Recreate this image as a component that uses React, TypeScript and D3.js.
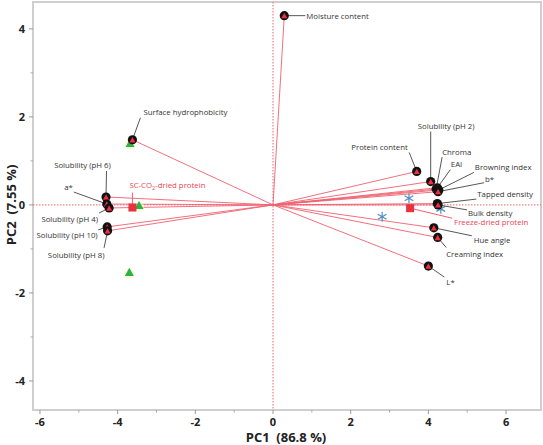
import React from "react";
import * as d3 from "d3";

// ---- data ----
const loadingNames = [
  "Moisture content", "Surface hydrophobicity", "Solubility (pH 6)", "a*", "Solubility (pH 4)",
  "Solubility (pH 10)", "Solubility (pH 8)", "Protein content", "Solubility (pH 2)", "Chroma",
  "EAI", "Browning index", "b*", "Tapped density", "Bulk density", "Hue angle", "Creaming index", "L*",
];
const loadingPC1 = [0.29, -3.62, -4.30, -4.28, -4.22, -4.27, -4.26, 3.70, 4.06, 4.20, 4.23, 4.27, 4.25, 4.23, 4.25, 4.14, 4.24, 4.0];
const loadingPC2 = [4.30, 1.48, 0.18, 0.02, -0.07, -0.50, -0.59, 0.76, 0.53, 0.36, 0.39, 0.34, 0.30, 0.03, 0.0, -0.52, -0.74, -1.39];

const scCO2PC1 = [-3.68, -3.45, -3.70];
const scCO2PC2 = [1.39, -0.02, -1.54];
const freezePC1 = [3.50, 2.81, 4.32];
const freezePC2 = [0.15, -0.27, -0.09];
const groupNames = ["SC-CO2-dried protein", "Freeze-dried protein"];
const groupMeanPC1 = [-3.62, 3.53];
const groupMeanPC2 = [-0.06, -0.075];

const xTicks = [-6, -4, -2, 0, 2, 4, 6];
const yTicks = [-4, -2, 0, 2, 4];
const xMinor = [-5, -3, -1, 1, 3, 5];
const yMinor = [-3, -1, 1, 3];

// ---- layout (label offsets in px relative to the point) ----
// [textDx, textDy, anchor, leaderDx, leaderDy]
const labelLayout: [number, number, string, number, number][] = [
  [22, 3, "start", 21, 0],
  [11, -25, "start", 8, -22],
  [-23.5, -28.5, "middle", 0.5, -26],
  [-34, -14, "end", -33, -12],
  [-11, 14, "end", -10, 5],
  [-9.5, 11.5, "end", -9, 3],
  [-3, 27, "end", -3.5, 17],
  [-9, -21.5, "end", -7.5, -19],
  [15.5, -52.5, "middle", 0, -50],
  [6, -34.5, "start", 6, -32],
  [13.5, -21, "start", 13, -18],
  [36, -19.5, "start", 35, -17.5],
  [47, -10, "start", 46, -9],
  [40, -6.5, "start", 39, -4.5],
  [30, 11, "start", 29, 5],
  [40, 15.5, "start", 38, 8],
  [8.5, 19.5, "start", 8.5, 10],
  [18, 19, "start", 16, 11],
];
const groupLabelLayout: [number, number, number, number][] = [
  [-3, -19.5, 0, -15],
  [44, 16.5, 42, 10],
];

const W = 543, H = 445;
const frame = { left: 33, right: 541, top: 2, bottom: 410 };

export default function App() {
  const x = d3.scaleLinear().domain([-6.18, 6.9]).range([frame.left, frame.right]);
  const y = d3.scaleLinear().domain([-4.66, 4.61]).range([frame.bottom, frame.top]);
  const x0 = x(0), y0 = y(0);
  const font = "'Open Sans', 'Noto Sans', sans-serif";
  const red = "#f0606f";
  const fs = 7.8;

  const tri = (cx: number, cy: number, s: number) => {
    const h = s * 0.9;
    return `M${cx},${cy - h * 0.6}L${cx + s / 2},${cy + h * 0.4}L${cx - s / 2},${cy + h * 0.4}Z`;
  };
  const star = d3.symbol().type(d3.symbolAsterisk).size(70)();

  return (
    <div style={{ position: "fixed", left: 0, top: 0, width: W, height: H, overflow: "hidden" }}>
      <svg width={W} height={H} style={{ display: "block", background: "#fff" }} fontFamily={font}>
        {/* frame */}
        <rect x={frame.left} y={frame.top} width={frame.right - frame.left} height={frame.bottom - frame.top}
          fill="none" stroke="#cfcfcf" strokeWidth={2} />
        {/* ticks */}
        {xTicks.map((t) => (
          <g key={"xt" + t}>
            <line x1={x(t)} x2={x(t)} y1={frame.bottom} y2={frame.bottom + 4} stroke="#999" />
            <text x={x(t)} y={frame.bottom + 16} textAnchor="middle" fontSize={11} fontWeight="bold" fill="#222">{t}</text>
          </g>
        ))}
        {xMinor.map((t) => (
          <line key={"xm" + t} x1={x(t)} x2={x(t)} y1={frame.bottom} y2={frame.bottom + 2.5} stroke="#aaa" />
        ))}
        {yTicks.map((t) => (
          <g key={"yt" + t}>
            <line x1={frame.left - 4} x2={frame.left} y1={y(t)} y2={y(t)} stroke="#999" />
            <text x={frame.left - 8} y={y(t) + 4} textAnchor="end" fontSize={11} fontWeight="bold" fill="#222">{t}</text>
          </g>
        ))}
        {yMinor.map((t) => (
          <line key={"ym" + t} x1={frame.left - 2.5} x2={frame.left} y1={y(t)} y2={y(t)} stroke="#aaa" />
        ))}
        {/* axis titles */}
        <text x={286} y={442} textAnchor="middle" fontSize={13} fontWeight="bold" fill="#222" xmlSpace="preserve">PC1  (86.8 %)</text>
        <text transform={`translate(16,${y0}) rotate(-90)`} textAnchor="middle" fontSize={13} fontWeight="bold" fill="#222" xmlSpace="preserve">PC2  (7.55 %)</text>

        {/* zero lines */}
        <line x1={frame.left} x2={frame.right} y1={y0} y2={y0} stroke={red} strokeDasharray="1.5,1.5" strokeWidth={1} />
        <line x1={x0} x2={x0} y1={frame.top} y2={frame.bottom} stroke={red} strokeDasharray="1.5,1.5" strokeWidth={1} />

        {/* loading vectors */}
        {loadingNames.map((n, i) => (
          <line key={"v" + i} x1={x0} y1={y0} x2={x(loadingPC1[i])} y2={y(loadingPC2[i])} stroke={red} strokeOpacity={0.9} strokeWidth={1} />
        ))}

        {/* score points */}
        {scCO2PC1.map((v, i) => (
          <g key={"g" + i}>
            <circle cx={x(v)} cy={y(scCO2PC2[i]) + 1} r={5} fill="#f6f3b0" opacity={0.6} />
            <path d={tri(x(v), y(scCO2PC2[i]), 9)} fill="#2bb34b" />
          </g>
        ))}
        {freezePC1.map((v, i) => (
          <path key={"f" + i} d={star} transform={`translate(${x(v)},${y(freezePC2[i])})`} fill="none" stroke="#4f8fc0" strokeWidth={1.2} />
        ))}
        {groupNames.map((n, i) => {
          const px = x(groupMeanPC1[i]), py = y(groupMeanPC2[i]);
          const [tdx, tdy, ldx, ldy] = groupLabelLayout[i];
          return (
            <g key={"m" + i}>
              <line x1={px} y1={py} x2={px + ldx} y2={py + ldy} stroke={red} strokeWidth={1} />
              <rect x={px - 4} y={py - 4} width={8} height={8} fill="#e8323f" />
              <text x={px + tdx} y={py + tdy} fontSize={fs} fill="#ee4455">
                {i === 0 ? (<><tspan>SC-CO</tspan><tspan fontSize={5.5} dy={2}>2</tspan><tspan dy={-2}>-dried protein</tspan></>) : n}
              </text>
            </g>
          );
        })}

        {/* loading leaders, markers & labels */}
        {loadingNames.map((n, i) => {
          const px = x(loadingPC1[i]), py = y(loadingPC2[i]);
          const [, , , ldx, ldy] = labelLayout[i];
          return (
            <line key={"l" + i} x1={px} y1={py} x2={px + ldx} y2={py + ldy} stroke="#444" strokeWidth={0.9} />
          );
        })}
        {loadingNames.map((n, i) => {
          const px = x(loadingPC1[i]), py = y(loadingPC2[i]);
          return (
            <g key={"p" + i}>
              <circle cx={px} cy={py} r={4.6} fill="#111" />
              <path d={tri(px, py + 0.5, 6)} fill="#f03040" />
            </g>
          );
        })}
        {loadingNames.map((n, i) => {
          const px = x(loadingPC1[i]), py = y(loadingPC2[i]);
          const [tdx, tdy, anchor] = labelLayout[i];
          return (
            <text key={"t" + i} x={px + tdx} y={py + tdy} textAnchor={anchor as any} fontSize={fs} fill="#333">{n}</text>
          );
        })}
      </svg>
    </div>
  );
}
